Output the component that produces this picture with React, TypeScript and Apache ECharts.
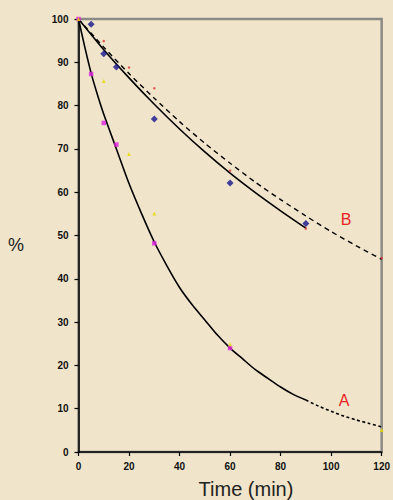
import React, { useEffect, useRef } from "react";
import * as echarts from "echarts";

// Fitted curve A (solid part and dashed extrapolation)
const aSolidTimes = [0, 2.5, 5, 7.5, 10, 15, 20, 25, 30, 35, 40, 45, 50, 55, 60, 65, 70, 75, 80, 85, 90];
const aSolidValues = [100, 93.5, 87.5, 82.5, 78, 70, 62, 55, 48.5, 43, 38, 34, 30.5, 27, 24, 21.5, 19, 17, 15, 13.3, 12];
const aDashTimes = [90, 95, 100, 105, 110, 115, 120];
const aDashValues = [12, 10.6, 9.4, 8.3, 7.4, 6.6, 5.8];

// Fitted curve B (solid) and dashed curve
const bSolidTimes = [0, 10, 20, 30, 40, 50, 60, 70, 80, 90];
const bSolidValues = [100, 92.9, 86.4, 80.3, 74.6, 69.3, 64.4, 59.9, 55.7, 51.7];
const bDashTimes = [0, 10, 20, 30, 40, 50, 60, 70, 80, 90, 100, 110, 120];
const bDashValues = [100, 93.5, 87.4, 81.7, 76.3, 71.3, 66.7, 62.3, 58.3, 54.5, 50.9, 47.6, 44.5];

// Measured points
const magentaTimes = [0, 5, 10, 15, 30, 60];
const magentaValues = [100, 87.3, 76, 71, 48.2, 24];
const yellowTimes = [0, 10, 20, 30, 60, 120];
const yellowValues = [100, 85.7, 68.8, 55.1, 24.9, 5.1];
const blueTimes = [5, 10, 15, 30, 60, 90];
const blueValues = [98.8, 92, 88.9, 76.9, 62.1, 52.8];
const redTimes = [10, 20, 30, 60, 90, 120];
const redValues = [94.9, 88.8, 84, 65, 51.6, 44.8];

const xTicks = [0, 20, 40, 60, 80, 100, 120];
const yTicks = [0, 10, 20, 30, 40, 50, 60, 70, 80, 90, 100];

const zip = (t: number[], v: number[]) => t.map((x, i) => [x, v[i]]);

export default function App() {
  const ref = useRef<HTMLDivElement>(null);
  useEffect(() => {
    if (!ref.current) return;
    const chart = echarts.init(ref.current, null, { renderer: "svg" });
    const font = "'Liberation Sans', Arial, sans-serif";
    const lineBase = { type: "line", showSymbol: false, symbol: "none", smooth: 0.25, z: 3 } as any;
    chart.setOption({
      animation: false,
      backgroundColor: "#f0e5ca",
      grid: {
        left: 78.5,
        right: 7,
        top: 19,
        bottom: 48,
        show: true,
        borderColor: "#8c8a86",
        borderWidth: 2.5,
        backgroundColor: "transparent",
      },
      xAxis: {
        type: "value",
        min: xTicks[0],
        max: xTicks[xTicks.length - 1],
        interval: 20,
        axisLine: { show: true, lineStyle: { color: "#000", width: 1.5 } },
        axisTick: { show: true, length: 4, lineStyle: { color: "#000", width: 1.2 } },
        axisLabel: { color: "#111", fontSize: 10, fontWeight: "bold", fontFamily: font, margin: 9 },
        splitLine: { show: false },
      },
      yAxis: {
        type: "value",
        min: yTicks[0],
        max: yTicks[yTicks.length - 1],
        interval: 10,
        axisLine: { show: true, lineStyle: { color: "#000", width: 1.5 } },
        axisTick: { show: true, length: 4, lineStyle: { color: "#000", width: 1.2 } },
        axisLabel: { color: "#111", fontSize: 10, fontWeight: "bold", fontFamily: font, margin: 10 },
        splitLine: { show: false },
      },
      graphic: [
        { type: "text", left: 8, top: 236, style: { text: "%", fontSize: 18, fontFamily: font, fill: "#222" } },
        { type: "text", x: 246, y: 489, style: { text: "Time (min)", fontSize: 20, fontFamily: font, fill: "#222", align: "center", verticalAlign: "middle" } },
        { type: "text", x: 344, y: 400, style: { text: "A", fontSize: 16, fontFamily: font, fill: "#e82323", align: "center", verticalAlign: "middle" } },
        { type: "text", x: 346, y: 219.5, style: { text: "B", fontSize: 16, fontFamily: font, fill: "#e82323", align: "center", verticalAlign: "middle" } },
      ],
      series: [
        { ...lineBase, data: zip(aSolidTimes, aSolidValues), lineStyle: { color: "#000", width: 1.6 } },
        { ...lineBase, data: zip(aDashTimes, aDashValues), lineStyle: { color: "#000", width: 1.6, type: [3, 2.5] } },
        { ...lineBase, data: zip(bSolidTimes, bSolidValues), lineStyle: { color: "#000", width: 1.6 } },
        { ...lineBase, data: zip(bDashTimes, bDashValues), lineStyle: { color: "#000", width: 1.4, type: [5, 4] } },
        { type: "scatter", clip: false, z: 4, symbol: "rect", symbolSize: 4.5, itemStyle: { color: "#e020e0" }, data: zip(magentaTimes, magentaValues) },
        { type: "scatter", clip: false, z: 5, symbol: "triangle", symbolSize: 4, itemStyle: { color: "#e6d800" }, data: zip(yellowTimes, yellowValues) },
        { type: "scatter", clip: false, z: 4, symbol: "diamond", symbolSize: 7, itemStyle: { color: "#14148c" }, data: zip(blueTimes, blueValues) },
        { type: "scatter", clip: false, z: 5, symbol: "circle", symbolSize: 2.5, itemStyle: { color: "#e03030" }, data: zip(redTimes, redValues) },
      ],
    });
    return () => chart.dispose();
  }, []);
  return <div ref={ref} style={{ position: "fixed", left: 0, top: 0, width: 393, height: 500 }} />;
}
